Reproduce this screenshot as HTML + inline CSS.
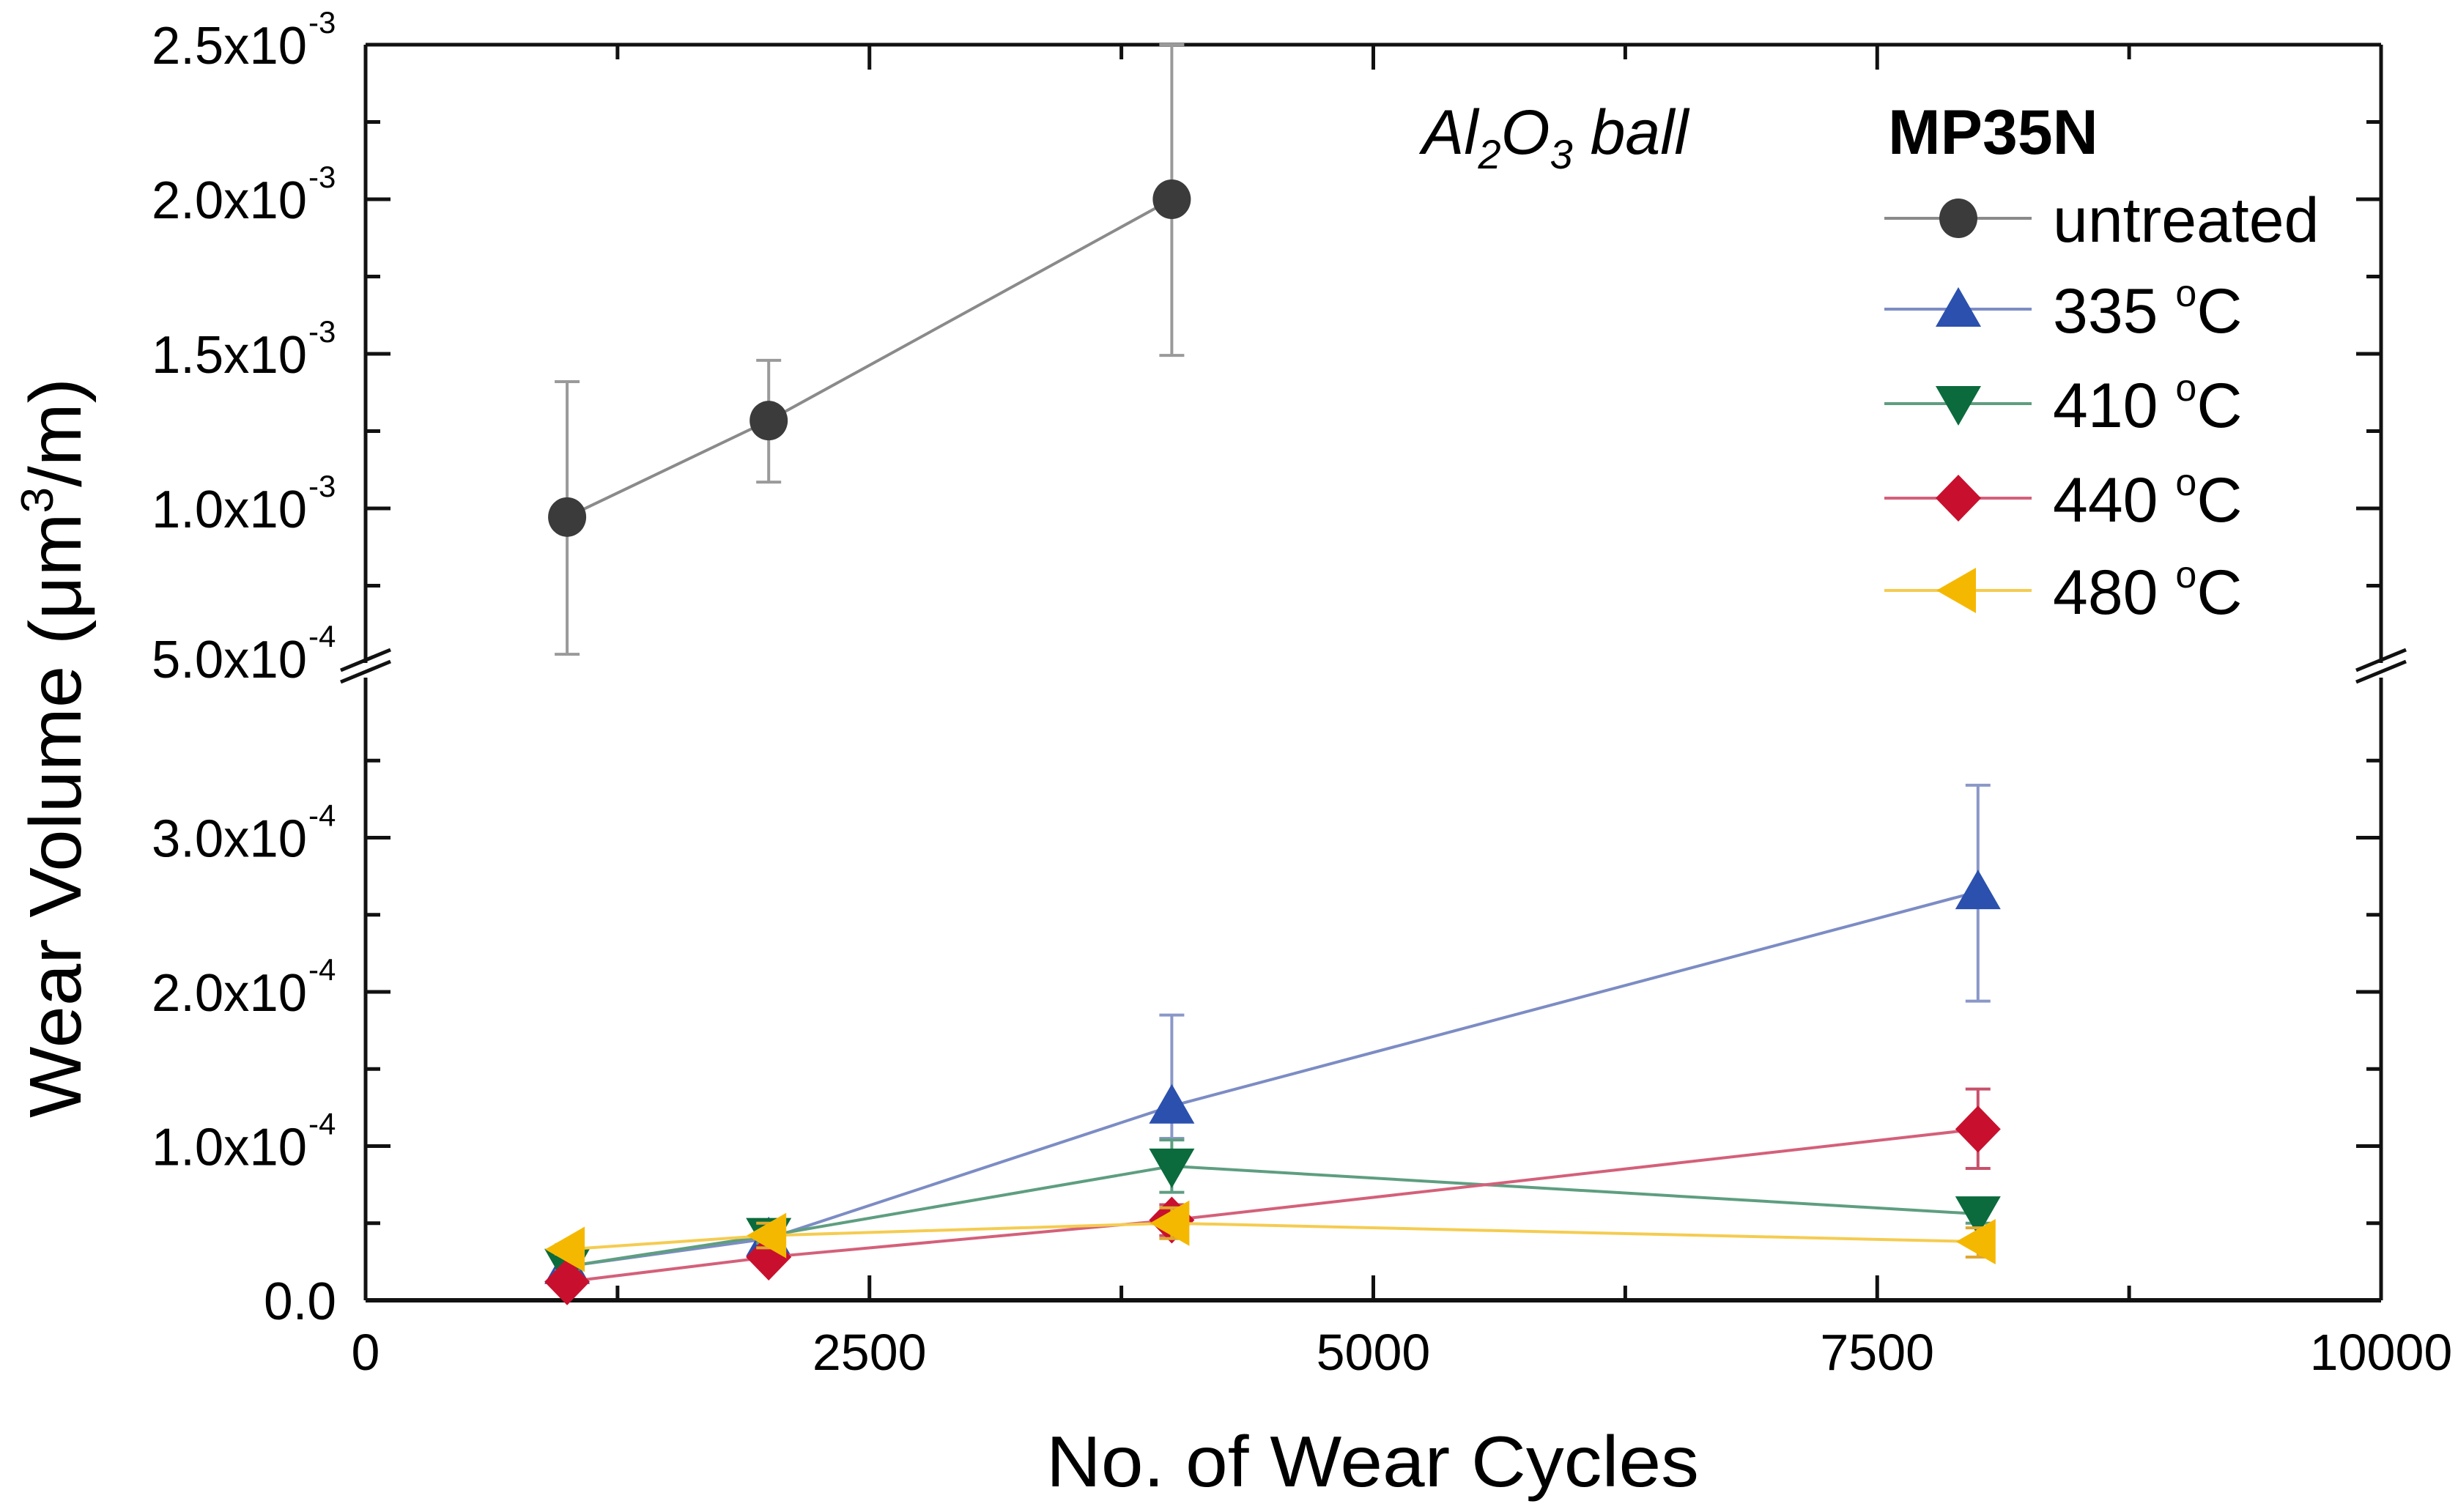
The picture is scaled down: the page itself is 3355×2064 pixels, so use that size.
<!DOCTYPE html>
<html><head><meta charset="utf-8"><style>
html,body{margin:0;padding:0;background:#fff}
svg{display:block;font-family:"Liberation Sans",Arial,sans-serif}
</style></head><body>
<svg id="chart" width="3355" height="2064" viewBox="0 0 3355 2064" xmlns="http://www.w3.org/2000/svg">
<rect width="3355" height="2064" fill="#fff"/>
<g id="axes"></g>
<g id="series"></g>
<g id="legend"></g>
<text transform="translate(110,1021) rotate(-90)" text-anchor="middle" font-size="100" textLength="1010" lengthAdjust="spacingAndGlyphs">Wear Volume (μm<tspan dy="-38" font-size="62">3</tspan><tspan dy="38">/m)</tspan></text>
<text x="1428" y="2029" font-size="98" textLength="891" lengthAdjust="spacingAndGlyphs">No. of Wear Cycles</text>
<text x="1941" y="210" font-size="86" font-style="italic">Al<tspan dy="20" font-size="56">2</tspan><tspan dy="-20">O</tspan><tspan dy="20" font-size="56">3</tspan><tspan dy="-20"> ball</tspan></text>
<text x="2577" y="210" font-size="86" font-weight="bold">MP35N</text>
</svg>
<script>
const cycles = [1000, 2000, 4000, 8000];
const seriesNames = ["untreated", "335 °C", "410 °C", "440 °C", "480 °C"];
const untreated = [0.972e-3, 1.284e-3, 2.0e-3];
const untreatedErrHi = [1.41e-3, 1.479e-3, 2.5e-3];
const untreatedErrLo = [0.528e-3, 1.085e-3, 1.495e-3];
const s335 = [0.22e-4, 0.40e-4, 1.26e-4, 2.65e-4];
const s335Hi = [0.25e-4, 0.45e-4, 1.85e-4, 3.34e-4];
const s335Lo = [0.19e-4, 0.35e-4, 1.05e-4, 1.94e-4];
const s410 = [0.22e-4, 0.42e-4, 0.87e-4, 0.56e-4];
const s410Hi = [0.25e-4, 0.47e-4, 1.04e-4, 0.62e-4];
const s410Lo = [0.19e-4, 0.37e-4, 0.70e-4, 0.50e-4];
const s440 = [0.12e-4, 0.28e-4, 0.52e-4, 1.11e-4];
const s440Hi = [0.15e-4, 0.32e-4, 0.62e-4, 1.37e-4];
const s440Lo = [0.09e-4, 0.24e-4, 0.42e-4, 0.855e-4];
const s480 = [0.33e-4, 0.42e-4, 0.50e-4, 0.38e-4];
const s480Hi = [0.36e-4, 0.50e-4, 0.60e-4, 0.47e-4];
const s480Lo = [0.30e-4, 0.34e-4, 0.40e-4, 0.28e-4];
const xTicks = [0, 2500, 5000, 7500, 10000];
const yTicksUpper = [1.0e-3, 1.5e-3, 2.0e-3, 2.5e-3];
const yTicksUpperLabels = ["1.0x10", "1.5x10", "2.0x10", "2.5x10"];
const yTicksLower = [0, 1e-4, 2e-4, 3e-4];
const yTicksLowerLabels = ["0.0", "1.0x10", "2.0x10", "3.0x10"];

const NS = "http://www.w3.org/2000/svg";
const X0 = 499, X1 = 3250, YTOP = 61, YBOT = 1775, UBOT = 905, LTOP = 925;
function xs(v){ return X0 + v / 10000 * (X1 - X0); }
function yU(v){ return YTOP + (2.5e-3 - v) / 0.5e-3 * 211; }
function yL(v){ return YBOT - v / 1e-4 * 210.5; }
function mk(tag, attrs, parent){
  const e = document.createElementNS(NS, tag);
  for (const k in attrs) e.setAttribute(k, attrs[k]);
  parent.appendChild(e); return e;
}
const axes = document.getElementById('axes');
const ser = document.getElementById('series');
const leg = document.getElementById('legend');

let a;
a = mk('line', {x1:X0, y1:YBOT, x2:X1, y2:YBOT, stroke:'#111', 'stroke-width':6}, axes);
 
a = mk('line', {x1:X0, y1:YTOP, x2:X1, y2:YTOP, stroke:'#111', 'stroke-width':5}, axes);
 
[X0, X1].forEach(function(x){
  let l = mk('line', {x1:x, y1:YTOP, x2:x, y2:UBOT, stroke:'#111', 'stroke-width':5}, axes);
   
  l = mk('line', {x1:x, y1:LTOP, x2:x, y2:YBOT, stroke:'#111', 'stroke-width':5}, axes);
   
  [UBOT - 4, LTOP - 8].forEach(function(y){
    const b = mk('line', {x1:x-34, y1:y+14, x2:x+34, y2:y-14, stroke:'#111', 'stroke-width':5}, axes);
     
  });
});
for (let v = 0; v <= 10000; v += 1250) {
  const major = v % 2500 === 0, len = major ? 34 : 20, x = xs(v);
  mk('line', {x1:x, y1:YBOT, x2:x, y2:YBOT-len, stroke:'#111', 'stroke-width':5}, axes);
  mk('line', {x1:x, y1:YTOP, x2:x, y2:YTOP+len, stroke:'#111', 'stroke-width':5}, axes);
}
xTicks.forEach(function(v){
  const t = mk('text', {x:xs(v), y:1870, 'font-size':70, 'text-anchor':'middle'}, axes);
  t.textContent = String(v);
   
});
function yTick(y, major){
  const len = major ? 34 : 20;
  mk('line', {x1:X0, y1:y, x2:X0+len, y2:y, stroke:'#111', 'stroke-width':5}, axes);
  mk('line', {x1:X1, y1:y, x2:X1-len, y2:y, stroke:'#111', 'stroke-width':5}, axes);
}
[0.75e-3, 1.25e-3, 1.75e-3, 2.25e-3].forEach(function(v){ yTick(yU(v), false); });
yTicksUpper.forEach(function(v){ yTick(yU(v), true); });
[0.5e-4, 1.5e-4, 2.5e-4, 3.5e-4].forEach(function(v){ yTick(yL(v), false); });
yTicksLower.forEach(function(v){ yTick(yL(v), true); });
function yLabel(y, txt, exp){
  const attrs = exp ? {x:207, y:y+26, 'font-size':72, textLength:212, lengthAdjust:'spacingAndGlyphs'}
                    : {x:360, y:y+26, 'font-size':72, textLength:99, lengthAdjust:'spacingAndGlyphs'};
  const t = mk('text', attrs, axes);
  t.textContent = txt;
   
  if (exp) {
    const s = mk('text', {x:421, y:y-16, 'font-size':42}, axes);
    s.textContent = exp;
     
  }
}
yTicksUpper.forEach(function(v, i){ yLabel(yU(v), yTicksUpperLabels[i], '-3'); });
yLabel(yU(0.5e-3) - 6, "5.0x10", '-4');
yTicksLower.forEach(function(v, i){ yLabel(yL(v), yTicksLowerLabels[i], i === 0 ? null : '-4'); });

function marker(kind, cx, cy, fill, parent){
  let e;
  if (kind === 'circle') e = mk('ellipse', {cx:cx, cy:cy, rx:26, ry:27, fill:fill}, parent);
  else if (kind === 'up') e = mk('polygon', {points:(cx)+','+(cy-30)+' '+(cx+31)+','+(cy+24)+' '+(cx-31)+','+(cy+24), fill:fill}, parent);
  else if (kind === 'down') e = mk('polygon', {points:(cx-31)+','+(cy-24)+' '+(cx+31)+','+(cy-24)+' '+(cx)+','+(cy+30), fill:fill}, parent);
  else if (kind === 'diamond') e = mk('polygon', {points:(cx)+','+(cy-32)+' '+(cx+31)+','+(cy)+' '+(cx)+','+(cy+32)+' '+(cx-31)+','+(cy), fill:fill}, parent);
  else e = mk('polygon', {points:(cx-30)+','+(cy)+' '+(cx+24)+','+(cy-31)+' '+(cx+24)+','+(cy+31), fill:fill}, parent);
  return e;
}
const seriesDefs = [
  {name:'untreated', vals:untreated, hi:untreatedErrHi, lo:untreatedErrLo, ys:yU, kind:'circle', fill:'#3b3b3b', line:'#8a8a8a', err:'#9a9a9a'},
  {name:'335', vals:s335, hi:s335Hi, lo:s335Lo, ys:yL, kind:'up', fill:'#2b50ae', line:'#7c8cc4', err:'#8a98c8'},
  {name:'410', vals:s410, hi:s410Hi, lo:s410Lo, ys:yL, kind:'down', fill:'#0b6b3c', line:'#5e9e80', err:'#5e9e80'},
  {name:'440', vals:s440, hi:s440Hi, lo:s440Lo, ys:yL, kind:'diamond', fill:'#c8102e', line:'#d4607a', err:'#c8506a'},
  {name:'480', vals:s480, hi:s480Hi, lo:s480Lo, ys:yL, kind:'left', fill:'#f5b800', line:'#f5cc50', err:'#e0a830'}
];
seriesDefs.forEach(function(s){
  const g = mk('g', {}, ser);
   
  const pts = s.vals.map(function(v, i){ return xs(cycles[i]) + ',' + s.ys(v); }).join(' ');
  const pl = mk('polyline', {points:pts, fill:'none', stroke:s.line, 'stroke-width':4}, g);
   
  s.vals.forEach(function(v, i){
    const x = xs(cycles[i]);
    const eb = mk('g', {}, g);
     
    mk('line', {x1:x, y1:s.ys(s.hi[i]), x2:x, y2:s.ys(s.lo[i]), stroke:s.err, 'stroke-width':4}, eb);
    mk('line', {x1:x-17, y1:s.ys(s.hi[i]), x2:x+17, y2:s.ys(s.hi[i]), stroke:s.err, 'stroke-width':4}, eb);
    mk('line', {x1:x-17, y1:s.ys(s.lo[i]), x2:x+17, y2:s.ys(s.lo[i]), stroke:s.err, 'stroke-width':4}, eb);
    const m = marker(s.kind, x, s.ys(v), s.fill, g);
     
  });
});
const legY = [298, 422, 551, 680, 806];
seriesDefs.forEach(function(s, i){
  const g = mk('g', {}, leg);
   
  mk('line', {x1:2572, y1:legY[i], x2:2773, y2:legY[i], stroke:s.line, 'stroke-width':4}, g);
  marker(s.kind, 2673, legY[i], s.fill, g);
  const t = mk('text', {x:2802, y:legY[i] + 32, 'font-size':86}, g);
  if (i === 0) t.textContent = seriesNames[0];
  else {
    const parts = seriesNames[i].split(' ');
    t.textContent = parts[0] + ' ';
    const o = mk('tspan', {dy:-36, 'font-size':52}, t); o.textContent = 'o';
    const c = mk('tspan', {dy:36}, t); c.textContent = 'C';
  }
});
</script>
</body></html>
